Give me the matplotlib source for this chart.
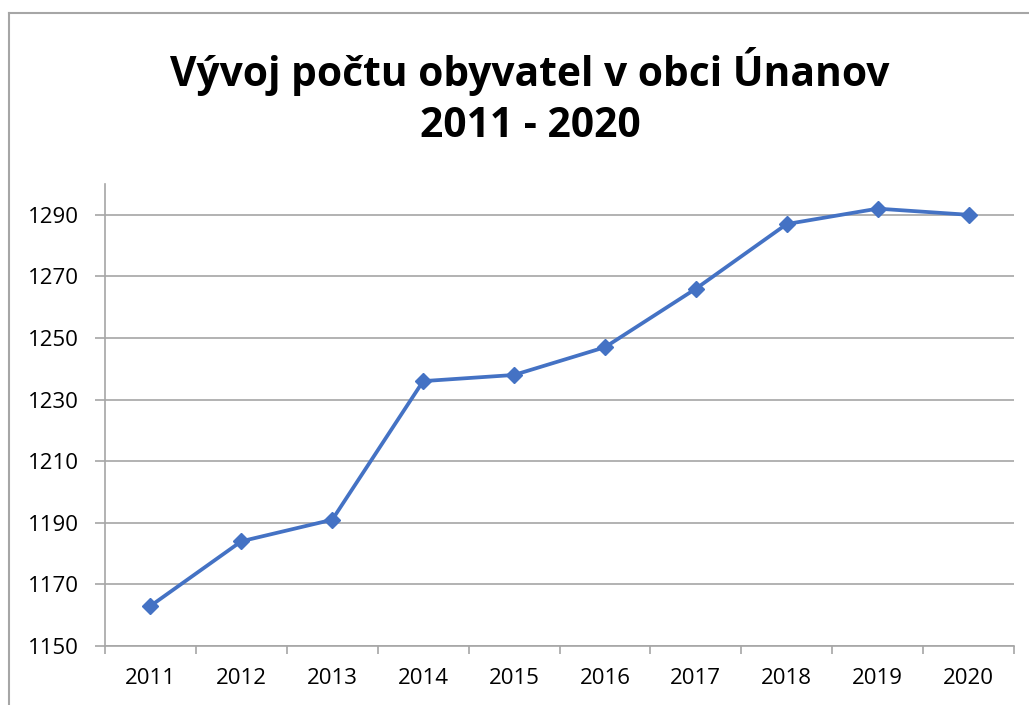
import matplotlib
matplotlib.use('Agg')
from matplotlib import pyplot as plt
from matplotlib.lines import Line2D
import numpy as np

# data -----------------------------------------
years = ['2011', '2012', '2013', '2014', '2015', '2016', '2017', '2018', '2019', '2020']
population = [1163, 1184, 1191, 1236, 1238, 1247, 1266, 1287, 1292, 1290]
y_ticks = [1150, 1170, 1190, 1210, 1230, 1250, 1270, 1290]

plt.rcParams['font.family'] = ['Open Sans', 'DejaVu Sans']

grey = '#a6a6a6'
blue = '#4472c4'

fig = plt.figure(figsize=(10.29, 7.05), dpi=100)
ax = fig.add_axes([105 / 1029, 1 - 646 / 705, (1014 - 105) / 1029, (646 - 184) / 705])

x = np.arange(len(years))
ax.plot(x, population, color=blue, linewidth=2.7, marker='D', markersize=8,
        markerfacecolor=blue, markeredgecolor=blue)

ax.set_xlim(-0.5, len(years) - 0.5)
ax.set_ylim(1150, 1300)
ax.set_yticks(y_ticks)
ax.set_yticklabels([str(v) for v in y_ticks], fontsize=16)
ax.set_xticks(x)
ax.set_xticklabels(years, fontsize=16)
ax.set_xticks(np.arange(-0.5, len(years), 1), minor=True)

ax.tick_params(axis='x', which='major', length=0, pad=16)
ax.tick_params(axis='x', which='minor', length=6, width=1.2, color=grey, direction='out')
ax.tick_params(axis='y', length=7, width=1.2, color=grey, pad=12)

ax.grid(axis='y', color=grey, linewidth=1.2)
ax.set_axisbelow(True)
for s in ['top', 'right']:
    ax.spines[s].set_visible(False)
for s in ['left', 'bottom']:
    ax.spines[s].set_color(grey)
    ax.spines[s].set_linewidth(1.2)

fig.text(530 / 1029, 1 - 97 / 705, 'Vývoj počtu obyvatel v obci Únanov\n2011 - 2020',
         ha='center', va='center', fontsize=29.3, fontweight='bold', linespacing=1.35)

# chart border (only top and left visible in the crop)
fig.add_artist(Line2D([9 / 1029, 9 / 1029], [0, 1 - 13 / 705], transform=fig.transFigure,
                      color=grey, linewidth=1.5))
fig.add_artist(Line2D([9 / 1029, 1], [1 - 13 / 705, 1 - 13 / 705], transform=fig.transFigure,
                      color=grey, linewidth=1.5))

fig.savefig('out.png', dpi=100)
